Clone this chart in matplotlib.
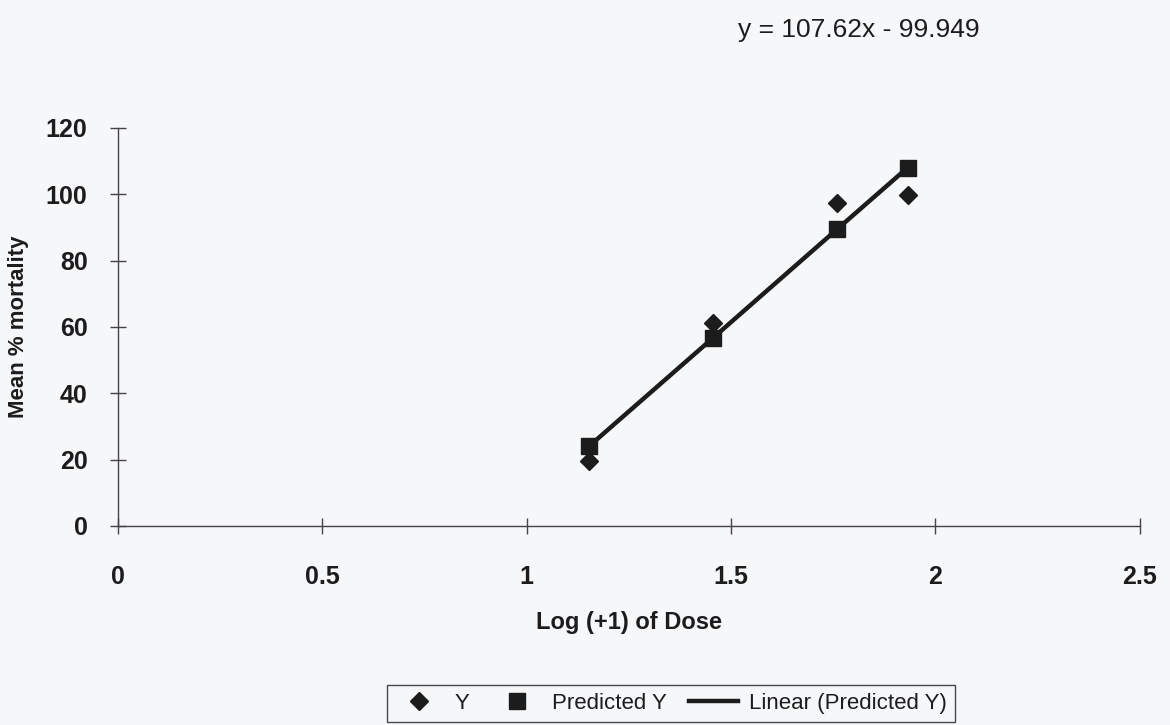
import numpy as np
import matplotlib.pyplot as plt

# log10(dose + 1) and mortality data
log_dose = [1.153, 1.455, 1.759, 1.932]
mortality = [19.6, 61.2, 97.4, 99.8]
predicted = [24.1, 56.6, 89.4, 108.0]   # y = 107.62x - 99.949
equation = "y = 107.62x - 99.949"

x_ticks = [0, 0.5, 1, 1.5, 2, 2.5]
x_tick_labels = ["0", "0.5", "1", "1.5", "2", "2.5"]
y_ticks = [0, 20, 40, 60, 80, 100, 120]

plt.rcParams['font.family'] = ['Liberation Sans', 'DejaVu Sans']
ink = '#1c1c1c'
paper = '#f6f7f9'

fig = plt.figure(figsize=(11.7, 7.25), dpi=100, facecolor=paper)
ax = fig.add_axes([0.101, 0.2745, 0.873, 0.549])
ax.set_facecolor(paper)

ax.plot(log_dose, mortality, linestyle='none', marker='D', markersize=9,
        color=ink, label='Y', zorder=3)
ax.plot(log_dose, predicted, linestyle='none', marker='s', markersize=11,
        color=ink, label='Predicted Y', zorder=4)
ax.plot(log_dose, predicted, linestyle='-', linewidth=3.2, color=ink,
        label='Linear (Predicted Y)', zorder=2)

ax.set_xlim(0, 2.5)
ax.set_ylim(0, 120)
ax.set_xticks(x_ticks)
ax.set_xticklabels(x_tick_labels)
ax.set_yticks(y_ticks)

for s in ('top', 'right'):
    ax.spines[s].set_visible(False)
for s in ('left', 'bottom'):
    ax.spines[s].set_color('#444444')
    ax.spines[s].set_linewidth(1.0)

ax.tick_params(axis='x', direction='inout', length=12, width=1, color='#444444',
               pad=22, labelsize=18, labelcolor=ink)
ax.tick_params(axis='y', direction='inout', length=12, width=1, color='#444444',
               pad=16, labelsize=18, labelcolor=ink)
for lbl in ax.get_xticklabels() + ax.get_yticklabels():
    lbl.set_fontweight('bold')

ax.set_xlabel('Log (+1) of Dose', fontsize=17, fontweight='bold', color=ink, labelpad=16)
ax.set_ylabel('Mean % mortality', fontsize=16, fontweight='bold', color=ink, labelpad=12)

fig.text(0.631, 0.958, equation, fontsize=19, color=ink, ha='left', va='center')

leg = fig.legend(loc='upper center', bbox_to_anchor=(0.5735, 0.055), ncol=3,
                 fontsize=16, frameon=True, fancybox=False, handlelength=2.2,
                 handletextpad=0.5, columnspacing=1.0, borderpad=0.35,
                 borderaxespad=0)
leg.get_frame().set_edgecolor(ink)
leg.get_frame().set_facecolor(paper)
leg.get_frame().set_linewidth(1.0)
for t in leg.get_texts():
    t.set_color(ink)

fig.savefig('out.png', dpi=100, facecolor=paper)
